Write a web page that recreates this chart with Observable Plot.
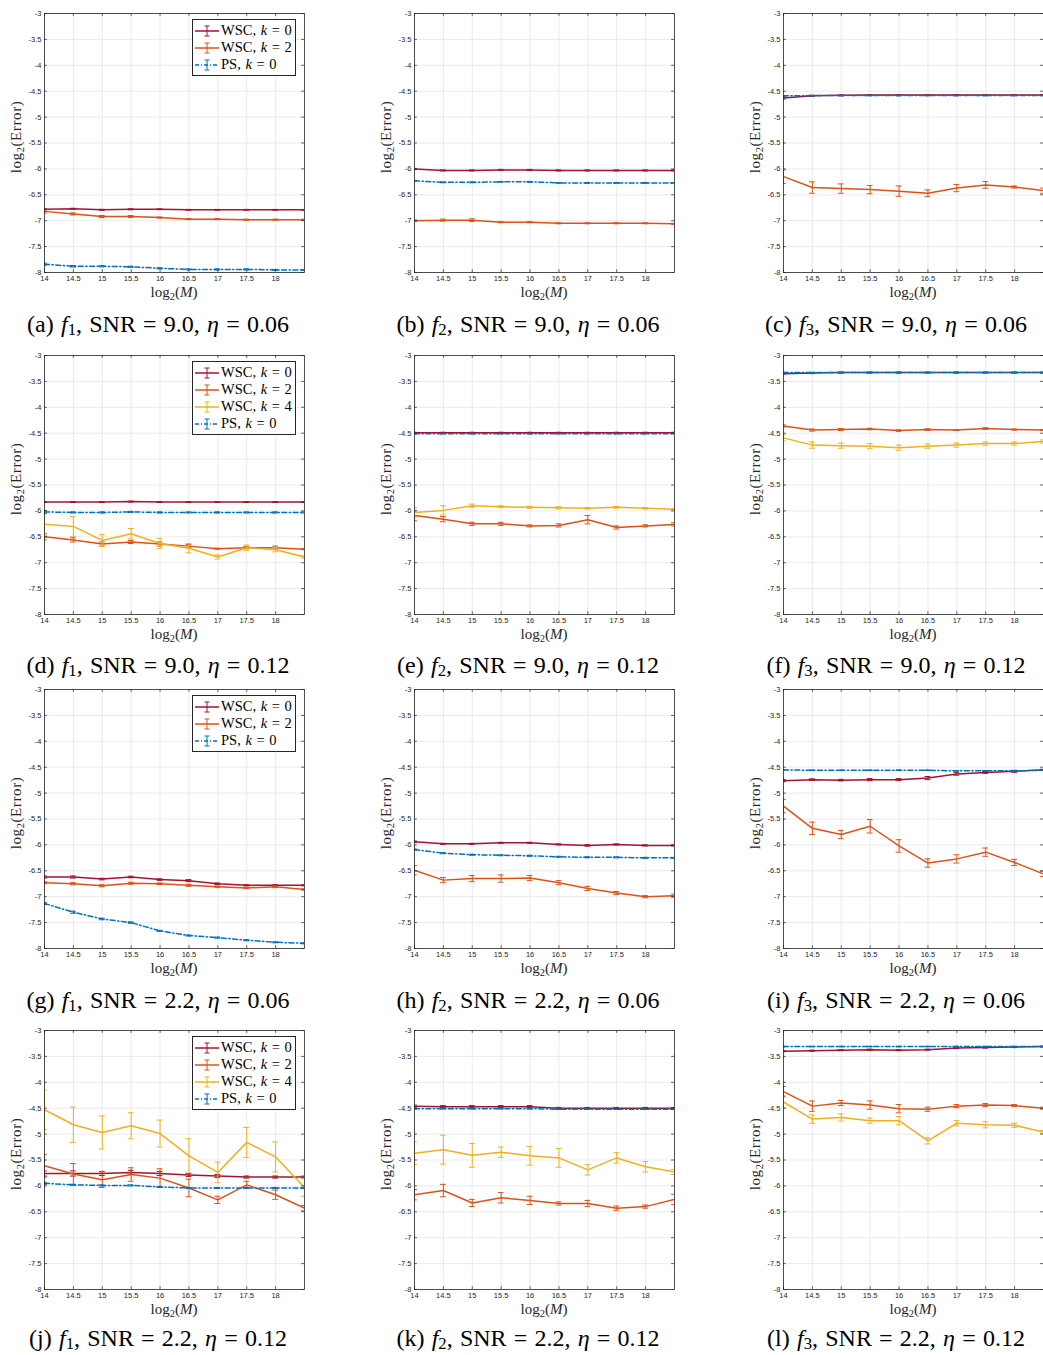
<!DOCTYPE html>
<html>
<head>
<meta charset="utf-8">
<script src="https://cdn.jsdelivr.net/npm/d3@7"></script>
<script src="https://cdn.jsdelivr.net/npm/@observablehq/plot@0.6"></script>
<style>
  html, body { margin: 0; padding: 0; background: #fff; }
  #page { position: relative; width: 1043px; height: 1355px; overflow: hidden; background: #fff; }
  #page svg.plot { position: absolute; }
  .cap { position: absolute; font-family: "Liberation Serif", "Times New Roman", serif; font-size: 24px; color: #000;
         white-space: nowrap; transform: translate(-50%, -50%); line-height: 1; word-spacing: 0.05em; }
  .cap sub { font-size: 70%; vertical-align: baseline; position: relative; top: 0.2em; line-height: 0; }
  .lab sub { font-size: 70%; vertical-align: baseline; position: relative; top: 0.3em; line-height: 0; }
  .lab { position: absolute; font-family: "Liberation Serif", "Times New Roman", serif; font-size: 15px; color: #262626;
         white-space: nowrap; line-height: 1; }
  .ylab { transform: translate(-50%, -50%) rotate(-90deg); letter-spacing: 0.6px; }
  .xlab { transform: translate(-50%, -50%); }
  .legend { position: absolute; box-sizing: border-box; border: 0.8px solid #262626; background: #fff;
            font-family: "Liberation Serif", "Times New Roman", serif; font-size: 14.5px; color: #000; padding: 2px 0;
            word-spacing: 1px; }
  .legend .row { display: flex; align-items: center; height: 17px; white-space: nowrap; }
  .legend svg { margin-left: 1px; margin-right: 1px; }
</style>
</head>
<body>
<div id="page"></div>
<script>
// ---------- shared axes ----------
const xM = [14, 14.5, 15, 15.5, 16, 16.5, 17, 17.5, 18, 18.5];
const xTicks = [14, 14.5, 15, 15.5, 16, 16.5, 17, 17.5, 18];
const yTicks = [-3, -3.5, -4, -4.5, -5, -5.5, -6, -6.5, -7, -7.5, -8];
const xDomain = [14, 18.5];
const yDomain = [-8, -3];

// ---------- series labels ----------
const seriesKeys = ["wsc0", "wsc2", "wsc4", "ps0"];
const seriesMethod = ["WSC", "WSC", "WSC", "PS"];
const seriesK = ["0", "2", "4", "0"];

// ---------- captions ----------
const capLetters = ["a", "b", "c", "d", "e", "f", "g", "h", "i", "j", "k", "l"];
const capF = ["1", "2", "3", "1", "2", "3", "1", "2", "3", "1", "2", "3"];
const capSNR = ["9.0", "9.0", "9.0", "9.0", "9.0", "9.0", "2.2", "2.2", "2.2", "2.2", "2.2", "2.2"];
const capEta = ["0.06", "0.06", "0.06", "0.12", "0.12", "0.12", "0.06", "0.06", "0.06", "0.12", "0.12", "0.12"];

// ---------- (a) f1, SNR 9.0, eta 0.06 ----------
const a_wsc0 = [-6.78, -6.77, -6.79, -6.78, -6.78, -6.79, -6.79, -6.79, -6.79, -6.79];
const a_wsc0_err = [0.012, 0.01, 0.01, 0.01, 0.008, 0.008, 0.008, 0.008, 0.008, 0.008];
const a_wsc2 = [-6.82, -6.87, -6.92, -6.92, -6.94, -6.97, -6.97, -6.98, -6.98, -6.98];
const a_wsc2_err = [0.03, 0.02, 0.02, 0.02, 0.01, 0.01, 0.01, 0.01, 0.01, 0.01];
const a_ps0 = [-7.84, -7.88, -7.88, -7.89, -7.92, -7.94, -7.94, -7.94, -7.95, -7.95];
const a_ps0_err = [0.02, 0.015, 0.012, 0.012, 0.01, 0.01, 0.01, 0.01, 0.01, 0.01];

// ---------- (b) f2, SNR 9.0, eta 0.06 ----------
const b_wsc0 = [-6.00, -6.03, -6.03, -6.02, -6.02, -6.03, -6.03, -6.03, -6.03, -6.03];
const b_wsc0_err = [0.01, 0.01, 0.01, 0.01, 0.01, 0.01, 0.01, 0.01, 0.01, 0.01];
const b_wsc2 = [-7.00, -6.99, -6.99, -7.03, -7.03, -7.05, -7.05, -7.05, -7.05, -7.06];
const b_wsc2_err = [0.015, 0.02, 0.025, 0.01, 0.01, 0.01, 0.01, 0.01, 0.01, 0.01];
const b_ps0 = [-6.23, -6.26, -6.26, -6.25, -6.25, -6.27, -6.27, -6.27, -6.27, -6.27];
const b_ps0_err = [0.008, 0.008, 0.008, 0.008, 0.008, 0.008, 0.008, 0.008, 0.008, 0.008];

// ---------- (c) f3, SNR 9.0, eta 0.06 ----------
const c_wsc0 = [-4.63, -4.59, -4.58, -4.575, -4.575, -4.575, -4.575, -4.575, -4.575, -4.575];
const c_wsc0_err = [0.02, 0.01, 0.008, 0.008, 0.008, 0.008, 0.008, 0.008, 0.008, 0.008];
const c_wsc2 = [-6.15, -6.36, -6.38, -6.40, -6.43, -6.47, -6.37, -6.31, -6.35, -6.42];
const c_wsc2_err = [0.13, 0.11, 0.09, 0.08, 0.10, 0.065, 0.07, 0.065, 0.02, 0.05];
const c_ps0 = [-4.59, -4.585, -4.585, -4.585, -4.585, -4.585, -4.585, -4.585, -4.585, -4.585];
const c_ps0_err = [0.005, 0.005, 0.005, 0.005, 0.005, 0.005, 0.005, 0.005, 0.005, 0.005];

// ---------- (d) f1, SNR 9.0, eta 0.12 ----------
const d_wsc0 = [-5.83, -5.83, -5.83, -5.82, -5.83, -5.83, -5.83, -5.83, -5.83, -5.83];
const d_wsc0_err = [0.008, 0.008, 0.008, 0.008, 0.008, 0.008, 0.008, 0.008, 0.008, 0.008];
const d_wsc2 = [-6.50, -6.56, -6.64, -6.60, -6.64, -6.68, -6.73, -6.71, -6.71, -6.74];
const d_wsc2_err = [0.06, 0.04, 0.04, 0.03, 0.04, 0.03, 0.01, 0.02, 0.03, 0.01];
const d_wsc4 = [-6.26, -6.30, -6.57, -6.44, -6.63, -6.72, -6.89, -6.71, -6.75, -6.89];
const d_wsc4_err = [0.21, 0.19, 0.11, 0.10, 0.10, 0.09, 0.04, 0.05, 0.04, 0.02];
const d_ps0 = [-6.02, -6.03, -6.03, -6.02, -6.03, -6.03, -6.03, -6.03, -6.03, -6.03];
const d_ps0_err = [0.03, 0.01, 0.01, 0.01, 0.01, 0.01, 0.01, 0.01, 0.01, 0.01];

// ---------- (e) f2, SNR 9.0, eta 0.12 ----------
const e_wsc0 = [-4.49, -4.49, -4.49, -4.49, -4.49, -4.49, -4.49, -4.49, -4.49, -4.49];
const e_wsc0_err = [0.008, 0.008, 0.008, 0.008, 0.008, 0.008, 0.008, 0.008, 0.008, 0.008];
const e_wsc2 = [-6.09, -6.16, -6.25, -6.25, -6.29, -6.28, -6.17, -6.32, -6.29, -6.26];
const e_wsc2_err = [0.10, 0.05, 0.03, 0.03, 0.02, 0.03, 0.08, 0.03, 0.02, 0.03];
const e_wsc4 = [-6.03, -5.99, -5.90, -5.92, -5.93, -5.94, -5.95, -5.93, -5.95, -5.97];
const e_wsc4_err = [0.09, 0.09, 0.03, 0.02, 0.02, 0.02, 0.015, 0.015, 0.015, 0.015];
const e_ps0 = [-4.51, -4.51, -4.51, -4.51, -4.51, -4.51, -4.51, -4.51, -4.51, -4.51];
const e_ps0_err = [0.005, 0.005, 0.005, 0.005, 0.005, 0.005, 0.005, 0.005, 0.005, 0.005];

// ---------- (f) f3, SNR 9.0, eta 0.12 ----------
const f_wsc0 = [-3.35, -3.34, -3.33, -3.33, -3.33, -3.33, -3.33, -3.33, -3.33, -3.33];
const f_wsc0_err = [0.01, 0.01, 0.01, 0.01, 0.01, 0.01, 0.01, 0.01, 0.01, 0.01];
const f_wsc2 = [-4.36, -4.44, -4.43, -4.42, -4.45, -4.43, -4.44, -4.41, -4.43, -4.44];
const f_wsc2_err = [0.02, 0.02, 0.02, 0.015, 0.015, 0.015, 0.01, 0.015, 0.01, 0.01];
const f_wsc4 = [-4.59, -4.73, -4.74, -4.75, -4.78, -4.75, -4.73, -4.70, -4.70, -4.66];
const f_wsc4_err = [0.06, 0.06, 0.05, 0.05, 0.05, 0.04, 0.04, 0.03, 0.03, 0.03];
const f_ps0 = [-3.33, -3.33, -3.33, -3.33, -3.33, -3.33, -3.33, -3.33, -3.33, -3.33];
const f_ps0_err = [0.005, 0.005, 0.005, 0.005, 0.005, 0.005, 0.005, 0.005, 0.005, 0.005];

// ---------- (g) f1, SNR 2.2, eta 0.06 ----------
const g_wsc0 = [-6.62, -6.62, -6.66, -6.62, -6.67, -6.69, -6.75, -6.78, -6.78, -6.78];
const g_wsc0_err = [0.02, 0.02, 0.015, 0.015, 0.015, 0.02, 0.015, 0.01, 0.01, 0.01];
const g_wsc2 = [-6.73, -6.75, -6.79, -6.74, -6.75, -6.78, -6.81, -6.83, -6.81, -6.86];
const g_wsc2_err = [0.02, 0.02, 0.02, 0.02, 0.015, 0.02, 0.015, 0.015, 0.015, 0.015];
const g_ps0 = [-7.13, -7.30, -7.43, -7.50, -7.66, -7.75, -7.79, -7.84, -7.88, -7.90];
const g_ps0_err = [0.02, 0.02, 0.015, 0.015, 0.01, 0.01, 0.01, 0.01, 0.01, 0.01];

// ---------- (h) f2, SNR 2.2, eta 0.06 ----------
const h_wsc0 = [-5.94, -5.98, -5.98, -5.96, -5.96, -5.99, -6.01, -5.99, -6.01, -6.01];
const h_wsc0_err = [0.015, 0.01, 0.01, 0.01, 0.01, 0.01, 0.015, 0.01, 0.01, 0.01];
const h_wsc2 = [-6.49, -6.68, -6.65, -6.65, -6.64, -6.73, -6.84, -6.93, -7.00, -6.98];
const h_wsc2_err = [0.09, 0.05, 0.06, 0.07, 0.05, 0.04, 0.04, 0.03, 0.02, 0.03];
const h_ps0 = [-6.09, -6.16, -6.19, -6.20, -6.21, -6.23, -6.24, -6.24, -6.25, -6.25];
const h_ps0_err = [0.01, 0.01, 0.01, 0.01, 0.01, 0.01, 0.01, 0.01, 0.01, 0.01];

// ---------- (i) f3, SNR 2.2, eta 0.06 ----------
const i_wsc0 = [-4.76, -4.74, -4.75, -4.74, -4.74, -4.71, -4.63, -4.60, -4.58, -4.55];
const i_wsc0_err = [0.02, 0.015, 0.015, 0.02, 0.02, 0.03, 0.025, 0.02, 0.02, 0.01];
const i_wsc2 = [-5.25, -5.68, -5.80, -5.64, -6.02, -6.35, -6.27, -6.14, -6.34, -6.56];
const i_wsc2_err = [0.13, 0.12, 0.08, 0.13, 0.12, 0.08, 0.08, 0.08, 0.06, 0.05];
const i_ps0 = [-4.55, -4.56, -4.56, -4.56, -4.56, -4.56, -4.57, -4.57, -4.57, -4.56];
const i_ps0_err = [0.005, 0.005, 0.005, 0.005, 0.005, 0.005, 0.005, 0.005, 0.005, 0.005];

// ---------- (j) f1, SNR 2.2, eta 0.12 ----------
const j_wsc0 = [-5.76, -5.76, -5.76, -5.74, -5.76, -5.79, -5.81, -5.83, -5.83, -5.83];
const j_wsc0_err = [0.05, 0.05, 0.04, 0.04, 0.04, 0.03, 0.03, 0.02, 0.02, 0.02];
const j_wsc2 = [-5.61, -5.77, -5.88, -5.78, -5.85, -6.04, -6.27, -5.98, -6.17, -6.43];
const j_wsc2_err = [0.22, 0.2, 0.15, 0.13, 0.18, 0.17, 0.07, 0.07, 0.09, 0.05];
const j_wsc4 = [-4.53, -4.82, -4.97, -4.84, -4.99, -5.42, -5.74, -5.16, -5.44, -6.03];
const j_wsc4_err = [0.38, 0.34, 0.32, 0.25, 0.26, 0.33, 0.20, 0.29, 0.29, 0.17];
const j_ps0 = [-5.95, -5.98, -5.99, -5.99, -6.02, -6.04, -6.04, -6.04, -6.04, -6.04];
const j_ps0_err = [0.02, 0.01, 0.01, 0.01, 0.01, 0.01, 0.01, 0.01, 0.01, 0.01];

// ---------- (k) f2, SNR 2.2, eta 0.12 ----------
const k_wsc0 = [-4.46, -4.47, -4.47, -4.47, -4.47, -4.50, -4.50, -4.50, -4.50, -4.50];
const k_wsc0_err = [0.02, 0.02, 0.02, 0.02, 0.02, 0.015, 0.015, 0.015, 0.015, 0.015];
const k_wsc2 = [-6.17, -6.09, -6.33, -6.23, -6.28, -6.34, -6.34, -6.43, -6.40, -6.26];
const k_wsc2_err = [0.10, 0.12, 0.07, 0.10, 0.08, 0.03, 0.06, 0.04, 0.03, 0.10];
const k_wsc4 = [-5.37, -5.30, -5.41, -5.35, -5.42, -5.46, -5.69, -5.46, -5.63, -5.73];
const k_wsc4_err = [0.22, 0.28, 0.23, 0.10, 0.18, 0.18, 0.10, 0.10, 0.10, 0.05];
const k_ps0 = [-4.51, -4.51, -4.51, -4.51, -4.51, -4.52, -4.52, -4.52, -4.52, -4.52];
const k_ps0_err = [0.005, 0.005, 0.005, 0.005, 0.005, 0.005, 0.005, 0.005, 0.005, 0.005];

// ---------- (l) f3, SNR 2.2, eta 0.12 ----------
const l_wsc0 = [-3.40, -3.39, -3.38, -3.37, -3.38, -3.37, -3.34, -3.33, -3.32, -3.31];
const l_wsc0_err = [0.01, 0.01, 0.01, 0.01, 0.01, 0.01, 0.01, 0.01, 0.01, 0.01];
const l_wsc2 = [-4.18, -4.46, -4.40, -4.44, -4.51, -4.52, -4.46, -4.44, -4.45, -4.50];
const l_wsc2_err = [0.10, 0.10, 0.05, 0.08, 0.08, 0.04, 0.03, 0.03, 0.02, 0.02];
const l_wsc4 = [-4.38, -4.71, -4.68, -4.74, -4.74, -5.13, -4.79, -4.82, -4.83, -4.96];
const l_wsc4_err = [0.12, 0.08, 0.07, 0.05, 0.08, 0.06, 0.05, 0.06, 0.04, 0.03];
const l_ps0 = [-3.31, -3.31, -3.31, -3.31, -3.31, -3.31, -3.31, -3.31, -3.31, -3.31];
const l_ps0_err = [0.005, 0.005, 0.005, 0.005, 0.005, 0.005, 0.005, 0.005, 0.005, 0.005];

// ---------- panel table built from the arrays ----------
const panelSeries = [
  [["wsc0", a_wsc0, a_wsc0_err], ["wsc2", a_wsc2, a_wsc2_err], ["ps0", a_ps0, a_ps0_err]],
  [["wsc0", b_wsc0, b_wsc0_err], ["wsc2", b_wsc2, b_wsc2_err], ["ps0", b_ps0, b_ps0_err]],
  [["wsc0", c_wsc0, c_wsc0_err], ["wsc2", c_wsc2, c_wsc2_err], ["ps0", c_ps0, c_ps0_err]],
  [["wsc0", d_wsc0, d_wsc0_err], ["wsc2", d_wsc2, d_wsc2_err], ["wsc4", d_wsc4, d_wsc4_err], ["ps0", d_ps0, d_ps0_err]],
  [["wsc0", e_wsc0, e_wsc0_err], ["wsc2", e_wsc2, e_wsc2_err], ["wsc4", e_wsc4, e_wsc4_err], ["ps0", e_ps0, e_ps0_err]],
  [["wsc0", f_wsc0, f_wsc0_err], ["wsc2", f_wsc2, f_wsc2_err], ["wsc4", f_wsc4, f_wsc4_err], ["ps0", f_ps0, f_ps0_err]],
  [["wsc0", g_wsc0, g_wsc0_err], ["wsc2", g_wsc2, g_wsc2_err], ["ps0", g_ps0, g_ps0_err]],
  [["wsc0", h_wsc0, h_wsc0_err], ["wsc2", h_wsc2, h_wsc2_err], ["ps0", h_ps0, h_ps0_err]],
  [["wsc0", i_wsc0, i_wsc0_err], ["wsc2", i_wsc2, i_wsc2_err], ["ps0", i_ps0, i_ps0_err]],
  [["wsc0", j_wsc0, j_wsc0_err], ["wsc2", j_wsc2, j_wsc2_err], ["wsc4", j_wsc4, j_wsc4_err], ["ps0", j_ps0, j_ps0_err]],
  [["wsc0", k_wsc0, k_wsc0_err], ["wsc2", k_wsc2, k_wsc2_err], ["wsc4", k_wsc4, k_wsc4_err], ["ps0", k_ps0, k_ps0_err]],
  [["wsc0", l_wsc0, l_wsc0_err], ["wsc2", l_wsc2, l_wsc2_err], ["wsc4", l_wsc4, l_wsc4_err], ["ps0", l_ps0, l_ps0_err]]
];
const legendPanels = ["a", "d", "g", "j"];

// ---------- styles / layout ----------
const colors = {wsc0: "#A2142F", wsc2: "#D95319", wsc4: "#EDB120", ps0: "#0072BD"};
const dashes = {ps0: "5,2.5,1.3,2.5"};
const colLeft = [0, 370, 739];
const rowTop = [0, 342, 676, 1017];
const capCenterX = [158, 528, 896];
const capDy = [324, 323, 324, 321];
const W = 305, H = 312, ML = 44, MR = 1, MT = 13, MB = 40;
const capHalf = 0.05;     // half width of error-bar caps in x units
const tickLenX = 0.05, tickLenY = 0.055;
const axisInk = "#262626";

const page = document.getElementById("page");

function legendGlyph(key) {
  const c = colors[key];
  const da = dashes[key] ? `stroke-dasharray="4,2,1,2"` : "";
  return `<svg width="26" height="14" viewBox="0 0 26 14">
    <line x1="1" y1="7" x2="25" y2="7" stroke="${c}" stroke-width="1.5" ${da}/>
    <line x1="13" y1="2" x2="13" y2="12" stroke="${c}" stroke-width="1"/>
    <line x1="10.5" y1="2" x2="15.5" y2="2" stroke="${c}" stroke-width="1"/>
    <line x1="10.5" y1="12" x2="15.5" y2="12" stroke="${c}" stroke-width="1"/>
  </svg>`;
}

panelSeries.forEach((series, idx) => {
  const row = Math.floor(idx / 3), col = idx % 3;
  const L = colLeft[col], T = rowTop[row];
  const marks = [
    Plot.gridX(xTicks, {stroke: "#e2e2e2", strokeOpacity: 1, strokeWidth: 0.7}),
    Plot.gridY(yTicks, {stroke: "#e2e2e2", strokeOpacity: 1, strokeWidth: 0.7})
  ];
  for (const [key, vals, errs] of series) {
    const data = xM.map((x, i) => ({
      x, y: vals[i], lo: vals[i] - errs[i], hi: vals[i] + errs[i], cl: x - capHalf, cr: x + capHalf
    }));
    const c = colors[key];
    marks.push(Plot.line(data, {x: "x", y: "y", stroke: c, strokeWidth: 1.5, strokeDasharray: dashes[key], clip: true}));
    marks.push(Plot.ruleX(data, {x: "x", y1: "lo", y2: "hi", stroke: c, strokeWidth: 1, clip: true}));
    marks.push(Plot.ruleY(data, {y: "lo", x1: "cl", x2: "cr", stroke: c, strokeWidth: 1, clip: true}));
    marks.push(Plot.ruleY(data, {y: "hi", x1: "cl", x2: "cr", stroke: c, strokeWidth: 1, clip: true}));
  }
  // inward ticks on all four sides
  marks.push(Plot.ruleX(xTicks, {x: d => d, y1: yDomain[0], y2: yDomain[0] + tickLenY, stroke: axisInk, strokeWidth: 0.7}));
  marks.push(Plot.ruleX(xTicks, {x: d => d, y1: yDomain[1], y2: yDomain[1] - tickLenY, stroke: axisInk, strokeWidth: 0.7}));
  marks.push(Plot.ruleY(yTicks, {y: d => d, x1: xDomain[0], x2: xDomain[0] + tickLenX, stroke: axisInk, strokeWidth: 0.7}));
  marks.push(Plot.ruleY(yTicks, {y: d => d, x1: xDomain[1], x2: xDomain[1] - tickLenX, stroke: axisInk, strokeWidth: 0.7}));
  marks.push(Plot.frame({stroke: axisInk, strokeWidth: 0.8}));
  marks.push(Plot.axisX(xTicks, {tickSize: 0, tickPadding: 3, tickFormat: d => String(d), fontSize: 7.5, color: axisInk, label: null}));
  marks.push(Plot.axisY(yTicks, {tickSize: 0, tickPadding: 3, tickFormat: d => String(d), fontSize: 7.5, color: axisInk, label: null}));

  const svg = Plot.plot({
    width: W, height: H,
    marginLeft: ML, marginRight: MR, marginTop: MT, marginBottom: MB,
    x: {domain: xDomain, label: null},
    y: {domain: yDomain, label: null},
    style: {fontFamily: "'Liberation Sans', Arial, sans-serif", fontSize: "7.5px", background: "transparent", overflow: "visible"},
    marks
  });
  svg.classList.add("plot");
  svg.style.left = L + "px";
  svg.style.top = T + "px";
  page.appendChild(svg);

  const frameCx = L + ML + (W - ML - MR) / 2;
  const frameCy = T + MT + (H - MT - MB) / 2;
  const frameBottom = T + H - MB;

  const yl = document.createElement("div");
  yl.className = "lab ylab";
  yl.innerHTML = "log<sub>2</sub>(Error)";
  yl.style.left = (L + ML - 28) + "px";
  yl.style.top = (frameCy - 6) + "px";
  page.appendChild(yl);

  const xl = document.createElement("div");
  xl.className = "lab xlab";
  xl.innerHTML = "log<sub>2</sub>(<i>M</i>)";
  xl.style.left = frameCx + "px";
  xl.style.top = (frameBottom + 20) + "px";
  page.appendChild(xl);

  const cap = document.createElement("div");
  cap.className = "cap";
  cap.innerHTML = `(${capLetters[idx]}) <i>f</i><sub>${capF[idx]}</sub>, SNR = ${capSNR[idx]}, <i>η</i> = ${capEta[idx]}`;
  cap.style.left = capCenterX[col] + "px";
  cap.style.top = (T + capDy[row]) + "px";
  page.appendChild(cap);

  if (legendPanels.includes(capLetters[idx])) {
    const lg = document.createElement("div");
    lg.className = "legend";
    lg.style.left = (L + 192) + "px";
    lg.style.top = (T + 19) + "px";
    lg.style.width = "104px";
    lg.innerHTML = series.map(([key]) => {
      const si = seriesKeys.indexOf(key);
      return `<div class="row">${legendGlyph(key)}<span>${seriesMethod[si]}, <i>k</i> = ${seriesK[si]}</span></div>`;
    }).join("");
    page.appendChild(lg);
  }
});
</script>
</body>
</html>
